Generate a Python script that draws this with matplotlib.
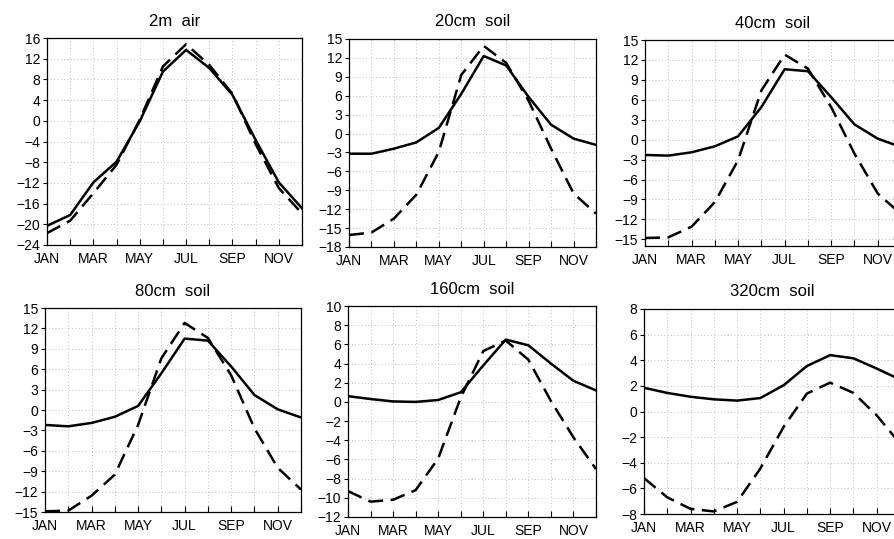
import matplotlib
matplotlib.use("Agg")
import matplotlib.pyplot as plt

# ---------------------------------------------------- #
months = ["JAN", "FEB", "MAR", "APR", "MAY", "JUN",
          "JUL", "AUG", "SEP", "OCT", "NOV", "DEC"]
month_labels = ["JAN", "", "MAR", "", "MAY", "", "JUL", "", "SEP", "", "NOV", ""]

titles = ["2m  air", "20cm  soil", "40cm  soil", "80cm  soil", "160cm  soil", "320cm  soil"]

air2m_solid  = [-20.3, -18.2, -11.9, -7.9, -0.1, 9.5, 13.7, 10.2, 5.0, -3.7, -11.9, -16.9]
air2m_dashed = [-21.7, -19.3, -14.0, -8.5, 0.2, 10.5, 14.8, 10.8, 5.2, -4.5, -13.0, -17.9]

s20_solid  = [-3.2, -3.2, -2.4, -1.4, 0.9, 6.3, 12.3, 10.8, 5.8, 1.4, -0.8, -1.8]
s20_dashed = [-16.1, -15.7, -13.5, -9.7, -2.9, 9.3, 13.9, 11.2, 5.2, -2.4, -9.5, -12.7]

s40_solid  = [-2.3, -2.4, -1.9, -1.0, 0.5, 4.9, 10.6, 10.3, 6.4, 2.3, 0.15, -1.1]
s40_dashed = [-14.8, -14.7, -13.1, -9.4, -3.1, 7.4, 12.8, 10.7, 4.9, -2.1, -8.1, -11.2]

s80_solid  = [-2.2, -2.4, -1.9, -1.0, 0.6, 5.4, 10.5, 10.2, 6.4, 2.2, 0.1, -1.1]
s80_dashed = [-14.9, -14.8, -12.6, -9.5, -2.2, 7.6, 12.8, 10.6, 5.1, -2.7, -8.5, -11.7]

s160_solid  = [0.6, 0.3, 0.05, 0.0, 0.2, 1.0, 3.8, 6.5, 5.9, 4.0, 2.2, 1.2]
s160_dashed = [-9.3, -10.4, -10.2, -9.2, -5.9, 0.45, 5.3, 6.4, 4.4, 0.1, -3.7, -7.0]

s320_solid  = [1.85, 1.45, 1.15, 0.95, 0.85, 1.05, 2.05, 3.55, 4.4, 4.15, 3.35, 2.5]
s320_dashed = [-5.2, -6.7, -7.6, -7.8, -7.05, -4.45, -1.2, 1.4, 2.25, 1.45, -0.3, -2.5]

yticks = [
    list(range(-24, 17, 4)),
    list(range(-18, 16, 3)),
    list(range(-15, 16, 3)),
    list(range(-15, 16, 3)),
    list(range(-12, 11, 2)),
    list(range(-8, 9, 2)),
]
ylims = [(-24, 16), (-18, 15), (-16, 15), (-15, 15), (-12, 10), (-8, 8)]

# panel boxes in pixels: left, right, top, bottom
boxes = [(47, 302, 38, 245), (349, 596, 39, 247), (645, 901, 40, 246),
         (45, 301, 308, 512), (348, 596, 306, 517), (644, 900, 309, 514)]

series = [(air2m_solid, air2m_dashed), (s20_solid, s20_dashed), (s40_solid, s40_dashed),
          (s80_solid, s80_dashed), (s160_solid, s160_dashed), (s320_solid, s320_dashed)]

W, H = 894, 539
plt.rcParams["font.family"] = "Liberation Sans"

fig = plt.figure(figsize=(W / 100, H / 100), dpi=100)
x = list(range(12))

for i, (solid, dashed) in enumerate(series):
    l, r, t, b = boxes[i]
    ax = fig.add_axes([l / W, 1 - b / H, (r - l) / W, (b - t) / H])
    ax.plot(x, solid, color="black", lw=1.8)
    ax.plot(x, dashed, color="black", lw=1.8, dashes=(6, 3))
    ax.set_xlim(0, 11)
    ax.set_ylim(*ylims[i])
    ax.set_xticks(x)
    ax.set_xticklabels(month_labels)
    ax.set_yticks(yticks[i])
    ax.tick_params(axis="x", direction="in", length=4, width=0.8, labelsize=10, pad=5)
    ax.tick_params(axis="y", direction="out", length=3, width=0.8, labelsize=10, pad=2)
    ax.grid(True, ls=(0, (1, 3)), lw=0.6, color="#aaaaaa")
    for s in ax.spines.values():
        s.set_linewidth(0.9)
    ax.set_title(titles[i], fontsize=12, pad=9)

fig.savefig("out.png", dpi=100)
